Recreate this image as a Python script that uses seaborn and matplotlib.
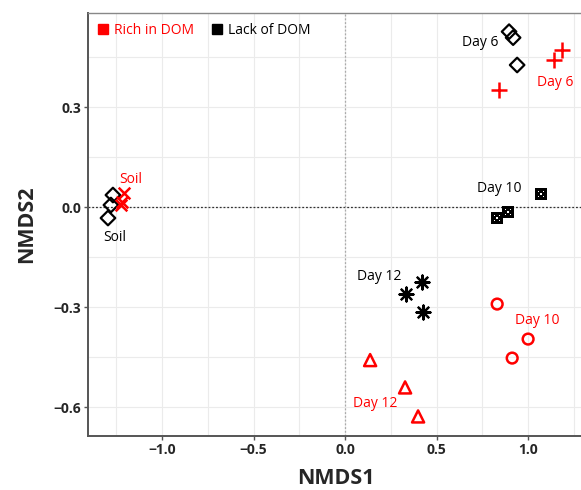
import numpy as np
import pandas as pd
import matplotlib
matplotlib.use("Agg")
import matplotlib.pyplot as plt
from matplotlib.path import Path
from matplotlib.lines import Line2D
import seaborn as sns

# ---- data ----
soil_lack_x = [-1.268, -1.279, -1.295]
soil_lack_y = [0.036, 0.006, -0.033]
soil_rich_x = [-1.208, -1.219, -1.224]
soil_rich_y = [0.042, 0.015, 0.006]
d6_lack_x = [0.896, 0.918, 0.940]
d6_lack_y = [0.526, 0.508, 0.426]
d6_rich_x = [1.186, 1.142, 0.842]
d6_rich_y = [0.471, 0.441, 0.351]
d10_lack_x = [0.831, 0.891, 1.071]
d10_lack_y = [-0.033, -0.015, 0.039]
d10_rich_x = [0.831, 1.000, 0.913]
d10_rich_y = [-0.291, -0.396, -0.453]
d12_lack_x = [0.421, 0.333, 0.426]
d12_lack_y = [-0.225, -0.261, -0.315]
d12_rich_x = [0.137, 0.328, 0.399]
d12_rich_y = [-0.459, -0.541, -0.628]

x_ticks = [-1.0, -0.5, 0.0, 0.5, 1.0]
y_ticks = [-0.6, -0.3, 0.0, 0.3]
legend_labels = ["Rich in DOM", "Lack of DOM"]

RED = "#ff0000"
BLK = "#000000"

sns.set_theme(style="white")
plt.rcParams['font.family'] = ['Open Sans', 'DejaVu Sans']

fig = plt.figure(figsize=(5.81, 4.90), dpi=100)
ax = fig.add_axes([0.1515, 0.110, 0.852, 0.8635])

# dice marker: square with 5 holes
def dice_path():
    verts, codes = [], []
    def sq(cx, cy, h, ccw=True):
        pts = [(cx-h, cy-h), (cx+h, cy-h), (cx+h, cy+h), (cx-h, cy+h)]
        if not ccw:
            pts = pts[::-1]
        verts.extend(pts + [pts[0]])
        codes.extend([Path.MOVETO, Path.LINETO, Path.LINETO, Path.LINETO, Path.CLOSEPOLY])
    sq(0, 0, 1.0, True)
    for cx, cy in [(-0.45, -0.45), (0.45, -0.45), (0.45, 0.45), (-0.45, 0.45), (0, 0)]:
        sq(cx, cy, 0.13, False)
    return Path(verts, codes)

dice = dice_path()
asterisk = (8, 2, 0)

def scat(xs, ys, marker, color, s, lw, filled):
    df = pd.DataFrame({"x": xs, "y": ys})
    if filled:
        sns.scatterplot(data=df, x="x", y="y", marker=marker, color=color, s=s,
                        linewidth=0, ax=ax, zorder=5, legend=False)
    else:
        sns.scatterplot(data=df, x="x", y="y", marker=marker, facecolor="none",
                        edgecolor=color, s=s, linewidth=lw, ax=ax, zorder=5, legend=False)
    if lw and filled:
        ax.collections[-1].set_edgecolor(color)
        ax.collections[-1].set_linewidth(lw)

scat(soil_lack_x, soil_lack_y, "D", BLK, 55, 1.6, False)
scat(d6_lack_x, d6_lack_y, "D", BLK, 55, 1.6, False)
scat(soil_rich_x, soil_rich_y, "x", RED, 70, 1.8, True)
scat(d6_rich_x, d6_rich_y, "+", RED, 130, 1.8, True)
scat(d10_lack_x, d10_lack_y, dice, BLK, 70, 0, True)
scat(d10_rich_x, d10_rich_y, "o", RED, 60, 1.8, False)
scat(d12_lack_x, d12_lack_y, asterisk, BLK, 100, 1.6, True)
scat(d12_rich_x, d12_rich_y, "^", RED, 75, 1.8, False)

# reference lines
ax.axhline(0, color="#333333", lw=0.9, ls=(0, (1.5, 1.5)), zorder=2)
ax.axvline(0, color="#aaaaaa", lw=0.9, ls=(0, (1.5, 1.5)), zorder=2)

ax.set_xlim(-1.404, 1.30)
ax.set_ylim(-0.687, 0.582)
ax.set_xticks(x_ticks)
ax.set_xticklabels([f"{v:.1f}".replace("-", "\u2212") for v in x_ticks])
ax.set_yticks(y_ticks)
ax.set_yticklabels([f"{v:.1f}".replace("-", "\u2212") for v in y_ticks])
ax.set_xticks(np.arange(-1.25, 1.3, 0.25), minor=True)
ax.set_yticks(np.arange(-0.6, 0.6, 0.15), minor=True)
ax.grid(True, which="both", color="#ebebeb", lw=0.8, zorder=0)
ax.set_axisbelow(True)
ax.tick_params(axis="both", which="major", length=3, width=1, color="#555555",
               labelsize=10, pad=2, bottom=True, left=True)
ax.tick_params(axis="both", which="minor", length=0)
for lab in ax.get_xticklabels() + ax.get_yticklabels():
    lab.set_fontweight("bold")
for side in ["left", "bottom"]:
    ax.spines[side].set_color("#555555")
    ax.spines[side].set_linewidth(1.4)
ax.spines["top"].set_color("#888888")
ax.spines["top"].set_linewidth(1.0)
ax.spines["right"].set_visible(False)

ax.set_xlabel("NMDS1", fontsize=15.5, fontweight="bold", labelpad=8)
ax.set_ylabel("NMDS2", fontsize=15.5, fontweight="bold", labelpad=12)

# annotations
tk = dict(fontsize=10, ha="center", va="center")
ax.text(-1.168, 0.084, "Soil", color=RED, **tk)
ax.text(-1.257, -0.090, "Soil", color=BLK, **tk)
ax.text(0.738, 0.493, "Day 6", color=BLK, **tk)
ax.text(1.150, 0.375, "Day 6", color=RED, **tk)
ax.text(0.842, 0.057, "Day 10", color=BLK, **tk)
ax.text(0.186, -0.207, "Day 12", color=BLK, **tk)
ax.text(1.049, -0.339, "Day 10", color=RED, **tk)
ax.text(0.164, -0.588, "Day 12", color=RED, **tk)

# legend
handles = [Line2D([], [], marker="s", ls="", color=RED, markersize=7),
           Line2D([], [], marker="s", ls="", color=BLK, markersize=7)]
leg = ax.legend(handles, legend_labels, loc="upper left", ncol=2, frameon=False,
                fontsize=10, handlelength=0.8, handletextpad=0.4, columnspacing=1.2,
                borderaxespad=0.3, bbox_to_anchor=(0.0, 1.0))
for t, c in zip(leg.get_texts(), [RED, BLK]):
    t.set_color(c)

fig.savefig("out.png", dpi=100)
